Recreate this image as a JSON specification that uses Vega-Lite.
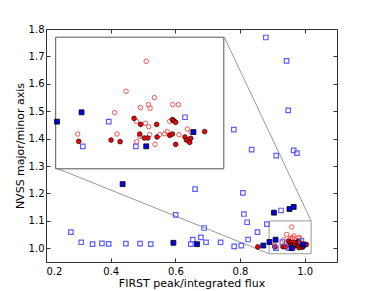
{
  "$schema": "https://vega.github.io/schema/vega-lite/v6.json",
  "width": 291,
  "height": 233,
  "autosize": "none",
  "padding": {"left": 46, "top": 29, "right": 37, "bottom": 29},
  "config": {
    "font": "DejaVu Sans",
    "view": {"stroke": "#333333", "strokeWidth": 1},
    "axis": {
      "labelFont": "DejaVu Sans", "labelFontSize": 10, "labelColor": "#000000",
      "titleFont": "DejaVu Sans", "titleFontSize": 11, "titleFontWeight": "normal", "titleColor": "#000000",
      "tickColor": "#333333", "grid": false, "domain": false
    }
  },
  "datasets": {
    "blueOpen": [
      {"x": 0.880, "y": 1.769}, {"x": 0.944, "y": 1.684}, {"x": 0.949, "y": 1.503}, {"x": 0.781, "y": 1.433},
      {"x": 0.836, "y": 1.360}, {"x": 0.912, "y": 1.338}, {"x": 0.966, "y": 1.357}, {"x": 0.976, "y": 1.347},
      {"x": 0.661, "y": 1.216}, {"x": 0.809, "y": 1.202}, {"x": 0.927, "y": 1.138}, {"x": 0.601, "y": 1.122},
      {"x": 0.812, "y": 1.125}, {"x": 0.822, "y": 1.095}, {"x": 0.689, "y": 1.074}, {"x": 0.883, "y": 1.088},
      {"x": 0.854, "y": 1.059}, {"x": 0.277, "y": 1.059}, {"x": 0.309, "y": 1.022}, {"x": 0.344, "y": 1.015},
      {"x": 0.373, "y": 1.018}, {"x": 0.394, "y": 1.016}, {"x": 0.447, "y": 1.017}, {"x": 0.491, "y": 1.017},
      {"x": 0.524, "y": 1.015}, {"x": 0.654, "y": 1.032}, {"x": 0.648, "y": 1.015}, {"x": 0.679, "y": 1.040},
      {"x": 0.695, "y": 1.022}, {"x": 0.740, "y": 1.022}, {"x": 0.782, "y": 1.007}, {"x": 0.804, "y": 1.010},
      {"x": 0.825, "y": 1.032}, {"x": 0.911, "y": 1.0005}, {"x": 0.931, "y": 1.023}, {"x": 0.952, "y": 1.0005},
      {"x": 0.990, "y": 1.027}
    ],
    "blueFilled": [
      {"x": 0.437, "y": 1.234}, {"x": 0.594, "y": 1.020}, {"x": 0.667, "y": 1.015}, {"x": 0.872, "y": 1.010},
      {"x": 0.905, "y": 1.130}, {"x": 0.953, "y": 1.143}, {"x": 0.966, "y": 1.151}, {"x": 0.891, "y": 1.023},
      {"x": 0.910, "y": 1.0315}, {"x": 0.960, "y": 1.0005}, {"x": 0.9965, "y": 1.0135}
    ],
    "redOpen": [
      {"x": 0.960, "y": 1.078}, {"x": 0.9444, "y": 1.0507}, {"x": 0.9663, "y": 1.0449}, {"x": 0.9356, "y": 1.0312},
      {"x": 0.9555, "y": 1.0358}, {"x": 0.9617, "y": 1.0385}, {"x": 0.963, "y": 1.0352}, {"x": 0.9805, "y": 1.0385},
      {"x": 0.9849, "y": 1.0385}, {"x": 0.907, "y": 1.0117}, {"x": 0.9374, "y": 1.0117}, {"x": 0.9524, "y": 1.0233},
      {"x": 0.9593, "y": 1.0215}, {"x": 0.9619, "y": 1.0184}, {"x": 0.9526, "y": 1.0047}, {"x": 0.9668, "y": 1.0023},
      {"x": 0.9782, "y": 1.0233}, {"x": 0.9807, "y": 1.0248}, {"x": 0.9918, "y": 1.0163}, {"x": 0.9854, "y": 1.0111},
      {"x": 0.9949, "y": 1.0132}, {"x": 0.9704, "y": 1.0111}, {"x": 0.9743, "y": 1.012}, {"x": 0.9761, "y": 1.0139},
      {"x": 0.955, "y": 1.0096}, {"x": 0.9627, "y": 1.0111}
    ],
    "redFilled": [
      {"x": 0.855, "y": 1.005},
      {"x": 0.9078, "y": 1.005}, {"x": 0.9328, "y": 1.0062}, {"x": 0.9398, "y": 1.0047}, {"x": 0.9506, "y": 1.026},
      {"x": 0.9557, "y": 1.0205}, {"x": 0.9681, "y": 1.0205}, {"x": 0.955, "y": 1.0117}, {"x": 0.9586, "y": 1.0081},
      {"x": 0.9612, "y": 1.0081}, {"x": 0.9684, "y": 1.009}, {"x": 0.9782, "y": 1.0105}, {"x": 0.9802, "y": 1.0117},
      {"x": 0.9802, "y": 1.0248}, {"x": 0.9815, "y": 1.0236}, {"x": 0.9828, "y": 1.0224}, {"x": 0.9828, "y": 1.0023},
      {"x": 0.99, "y": 1.009}, {"x": 0.9911, "y": 1.0062}, {"x": 0.9936, "y": 1.0041}, {"x": 0.9944, "y": 1.0078},
      {"x": 1.0052, "y": 1.0139}
    ]
  },
  "layer": [
    {
      "layer": [
        {
          "data": {"values": [{}]},
          "mark": {"type": "rect", "fillOpacity": 0, "stroke": "#999999", "strokeWidth": 1},
          "encoding": {
            "x": {"datum": 0.89, "type": "quantitative", "scale": {"domain": [0.2, 1.1], "nice": false, "zero": false},
                  "axis": {"orient": "top", "values": [0.2, 0.4, 0.6, 0.8, 1.0], "labels": false, "title": null, "tickSize": -4}},
            "x2": {"datum": 1.02},
            "y": {"datum": 0.98, "type": "quantitative", "scale": {"domain": [0.95, 1.8], "nice": false, "zero": false},
                  "axis": {"orient": "right", "values": [1.0, 1.1, 1.2, 1.3, 1.4, 1.5, 1.6, 1.7, 1.8], "labels": false, "title": null, "tickSize": -4}},
            "y2": {"datum": 1.10}
          }
        },
        {
          "data": {"values": [{}]},
          "mark": {"type": "rule", "stroke": "#999999", "strokeWidth": 1},
          "encoding": {
            "x": {"datum": 0.7515, "type": "quantitative", "scale": {"domain": [0.2, 1.1], "nice": false, "zero": false}, "axis": null},
            "x2": {"datum": 1.02},
            "y": {"datum": 1.77, "type": "quantitative", "scale": {"domain": [0.95, 1.8], "nice": false, "zero": false}, "axis": null},
            "y2": {"datum": 1.10}
          }
        },
        {
          "data": {"values": [{}]},
          "mark": {"type": "rule", "stroke": "#999999", "strokeWidth": 1},
          "encoding": {
            "x": {"datum": 0.2309, "type": "quantitative", "scale": {"domain": [0.2, 1.1], "nice": false, "zero": false}, "axis": null},
            "x2": {"datum": 0.89},
            "y": {"datum": 1.293, "type": "quantitative", "scale": {"domain": [0.95, 1.8], "nice": false, "zero": false}, "axis": null},
            "y2": {"datum": 0.98}
          }
        },
        {
          "data": {"name": "redOpen"},
          "mark": {"type": "point", "shape": "circle", "filled": false, "stroke": "#ff5050", "strokeWidth": 1, "size": 20, "opacity": 1},
          "encoding": {
            "x": {"field": "x", "type": "quantitative", "scale": {"domain": [0.2, 1.1], "nice": false, "zero": false}, "axis": null},
            "y": {"field": "y", "type": "quantitative", "scale": {"domain": [0.95, 1.8], "nice": false, "zero": false}, "axis": null}
          }
        },
        {
          "data": {"name": "redFilled"},
          "mark": {"type": "point", "shape": "circle", "filled": true, "fill": "#ff0000", "stroke": "#000000", "strokeWidth": 0.7, "size": 22, "opacity": 1},
          "encoding": {
            "x": {"field": "x", "type": "quantitative", "scale": {"domain": [0.2, 1.1], "nice": false, "zero": false}, "axis": null},
            "y": {"field": "y", "type": "quantitative", "scale": {"domain": [0.95, 1.8], "nice": false, "zero": false}, "axis": null}
          }
        },
        {
          "data": {"name": "blueOpen"},
          "mark": {"type": "point", "shape": "square", "filled": false, "stroke": "#5c5cff", "strokeWidth": 1.2, "size": 20, "opacity": 1},
          "encoding": {
            "x": {"field": "x", "type": "quantitative", "scale": {"domain": [0.2, 1.1], "nice": false, "zero": false},
                  "axis": {"orient": "bottom", "values": [0.2, 0.4, 0.6, 0.8, 1.0], "format": ".1f", "tickSize": -4, "labelPadding": 8, "title": "FIRST peak/integrated flux", "titlePadding": 1}},
            "y": {"field": "y", "type": "quantitative", "scale": {"domain": [0.95, 1.8], "nice": false, "zero": false},
                  "axis": {"orient": "left", "values": [1.0, 1.1, 1.2, 1.3, 1.4, 1.5, 1.6, 1.7, 1.8], "format": ".1f", "tickSize": -4, "labelPadding": 6, "title": "NVSS major/minor axis", "titlePadding": 3}}
          }
        },
        {
          "data": {"name": "blueFilled"},
          "mark": {"type": "point", "shape": "square", "filled": true, "fill": "#0000ee", "stroke": "#000000", "strokeWidth": 0.8, "size": 24, "opacity": 1},
          "encoding": {
            "x": {"field": "x", "type": "quantitative", "scale": {"domain": [0.2, 1.1], "nice": false, "zero": false}, "axis": null},
            "y": {"field": "y", "type": "quantitative", "scale": {"domain": [0.95, 1.8], "nice": false, "zero": false}, "axis": null}
          }
        }
      ],
      "resolve": {"axis": {"x": "independent", "y": "independent"}}
    },
    {
      "layer": [
        {
          "data": {"values": [{}]},
          "mark": {"type": "rect", "fill": "#ffffff", "stroke": "#555555", "strokeWidth": 1},
          "encoding": {
            "x": {"datum": 0.89, "type": "quantitative", "scale": {"domain": [0.89, 1.02], "range": [9.7, 177.8], "nice": false, "zero": false}, "axis": null},
            "x2": {"datum": 1.02},
            "y": {"datum": 0.98, "type": "quantitative", "scale": {"domain": [0.98, 1.10], "range": [139.8, 8.2], "nice": false, "zero": false}, "axis": null},
            "y2": {"datum": 1.10}
          }
        },
        {
          "data": {"name": "redOpen"},
          "transform": [{"filter": {"field": "x", "range": [0.89, 1.02]}}, {"filter": {"field": "y", "range": [0.98, 1.10]}}],
          "mark": {"type": "point", "shape": "circle", "filled": false, "stroke": "#ff5050", "strokeWidth": 1, "size": 20, "opacity": 1},
          "encoding": {
            "x": {"field": "x", "type": "quantitative", "scale": {"domain": [0.89, 1.02], "range": [9.7, 177.8], "nice": false, "zero": false}, "axis": null},
            "y": {"field": "y", "type": "quantitative", "scale": {"domain": [0.98, 1.10], "range": [139.8, 8.2], "nice": false, "zero": false}, "axis": null}
          }
        },
        {
          "data": {"name": "redFilled"},
          "transform": [{"filter": {"field": "x", "range": [0.89, 1.02]}}, {"filter": {"field": "y", "range": [0.98, 1.10]}}],
          "mark": {"type": "point", "shape": "circle", "filled": true, "fill": "#ff0000", "stroke": "#000000", "strokeWidth": 0.7, "size": 22, "opacity": 1},
          "encoding": {
            "x": {"field": "x", "type": "quantitative", "scale": {"domain": [0.89, 1.02], "range": [9.7, 177.8], "nice": false, "zero": false}, "axis": null},
            "y": {"field": "y", "type": "quantitative", "scale": {"domain": [0.98, 1.10], "range": [139.8, 8.2], "nice": false, "zero": false}, "axis": null}
          }
        },
        {
          "data": {"name": "blueOpen"},
          "transform": [{"filter": {"field": "x", "range": [0.89, 1.02]}}, {"filter": {"field": "y", "range": [0.98, 1.10]}}],
          "mark": {"type": "point", "shape": "square", "filled": false, "stroke": "#5c5cff", "strokeWidth": 1.2, "size": 20, "opacity": 1},
          "encoding": {
            "x": {"field": "x", "type": "quantitative", "scale": {"domain": [0.89, 1.02], "range": [9.7, 177.8], "nice": false, "zero": false}, "axis": null},
            "y": {"field": "y", "type": "quantitative", "scale": {"domain": [0.98, 1.10], "range": [139.8, 8.2], "nice": false, "zero": false}, "axis": null}
          }
        },
        {
          "data": {"name": "blueFilled"},
          "transform": [{"filter": {"field": "x", "range": [0.89, 1.02]}}, {"filter": {"field": "y", "range": [0.98, 1.10]}}],
          "mark": {"type": "point", "shape": "square", "filled": true, "fill": "#0000ee", "stroke": "#000000", "strokeWidth": 0.8, "size": 24, "opacity": 1},
          "encoding": {
            "x": {"field": "x", "type": "quantitative", "scale": {"domain": [0.89, 1.02], "range": [9.7, 177.8], "nice": false, "zero": false}, "axis": null},
            "y": {"field": "y", "type": "quantitative", "scale": {"domain": [0.98, 1.10], "range": [139.8, 8.2], "nice": false, "zero": false}, "axis": null}
          }
        }
      ]
    }
  ],
  "resolve": {"scale": {"x": "independent", "y": "independent"}}
}
